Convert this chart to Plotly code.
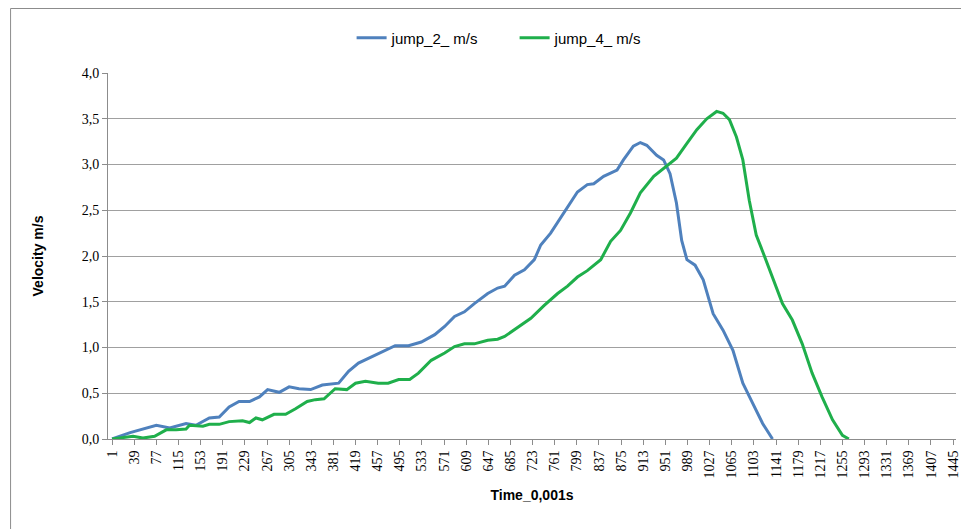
import plotly.graph_objects as go

j2_t = [1, 32, 77, 100, 128, 145, 168, 185, 202, 219, 237, 254, 268, 288, 305, 322, 342, 362, 390,
        407, 424, 441, 464, 487, 510, 532, 555, 572, 589, 606, 623, 646, 663, 675, 692, 709, 726,
        737, 754, 777, 800, 817, 828, 845, 868, 879, 896, 908, 919, 936, 948, 959, 970, 979, 988,
        1002, 1016, 1033, 1050, 1067, 1084, 1101, 1118, 1135]
j2_v = [0.0, 0.07, 0.15, 0.12, 0.17, 0.15, 0.23, 0.24, 0.35, 0.41, 0.41, 0.46, 0.54, 0.51, 0.57, 0.55,
        0.54, 0.59, 0.61, 0.74, 0.83, 0.88, 0.95, 1.02, 1.02, 1.06, 1.14, 1.23, 1.34, 1.39, 1.48, 1.59,
        1.65, 1.67, 1.79, 1.85, 1.96, 2.12, 2.25, 2.47, 2.70, 2.78, 2.79, 2.87, 2.94, 3.05, 3.20, 3.24,
        3.21, 3.10, 3.05, 2.90, 2.58, 2.17, 1.96, 1.90, 1.74, 1.37, 1.19, 0.97, 0.61, 0.39, 0.17, 0.0]

j4_t = [1, 37, 54, 74, 94, 111, 128, 134, 157, 168, 185, 202, 225, 237, 248, 259, 279, 299, 316, 336,
        350, 365, 384, 404, 419, 436, 458, 475, 493, 512, 527, 549, 572, 589, 606, 623, 646, 663, 675,
        703, 720, 743, 766, 783, 800, 817, 840, 857, 874, 891, 908, 931, 953, 970, 988, 1005, 1022,
        1039, 1050, 1061, 1073, 1084, 1095, 1107, 1118, 1135, 1152, 1169, 1186, 1203, 1220, 1238,
        1255, 1266]
j4_v = [0.0, 0.03, 0.01, 0.03, 0.10, 0.10, 0.11, 0.15, 0.14, 0.16, 0.16, 0.19, 0.20, 0.18, 0.23, 0.21,
        0.27, 0.27, 0.33, 0.41, 0.43, 0.44, 0.55, 0.54, 0.61, 0.63, 0.61, 0.61, 0.65, 0.65, 0.72, 0.86,
        0.94, 1.01, 1.04, 1.04, 1.08, 1.09, 1.12, 1.25, 1.32, 1.46, 1.59, 1.67, 1.77, 1.84, 1.96, 2.16,
        2.28, 2.47, 2.69, 2.87, 2.98, 3.07, 3.23, 3.38, 3.50, 3.58, 3.56, 3.49, 3.30, 3.05, 2.61, 2.23,
        2.05, 1.77, 1.48, 1.30, 1.04, 0.72, 0.46, 0.21, 0.04, 0.0]

x_ticks = list(range(1, 1446, 38))
x_tick_labels = [str(v) for v in x_ticks]
y_ticks = [0.0, 0.5, 1.0, 1.5, 2.0, 2.5, 3.0, 3.5, 4.0]

W, H = 961, 521
L, R, T, B = 100, 8, 65, 90
PW, PH = W - L - R, H - T - B

fig = go.Figure()
fig.add_trace(go.Scatter(x=j2_t, y=j2_v, mode="lines", name="jump_2_ m/s",
                         line=dict(color="#4F81BD", width=3)))
fig.add_trace(go.Scatter(x=j4_t, y=j4_v, mode="lines", name="jump_4_ m/s",
                         line=dict(color="#1FAF4B", width=3)))

fig.update_layout(
    width=W, height=H,
    margin=dict(l=L, r=R, t=T, b=B),
    paper_bgcolor="white", plot_bgcolor="white",
    separators=",.",
    showlegend=True,
    legend=dict(orientation="h", x=(509 - L) / PW, xanchor="center",
                y=1 + (T - 30) / PH, yanchor="middle",
                entrywidth=118, entrywidthmode="pixels",
                font=dict(family="Liberation Sans", size=15, color="#000000"),
                bgcolor="rgba(0,0,0,0)"),
    xaxis=dict(
        range=[-6, 1450], tickmode="array", tickvals=x_ticks, ticktext=x_tick_labels,
        tickangle=-90, showgrid=False, zeroline=False,
        showline=True, linecolor="#8C8C8C", linewidth=1,
        ticks="outside", ticklen=5, tickcolor="#8C8C8C",
        tickfont=dict(family="Liberation Serif", size=14, color="#000000"),
        title=dict(text="<b>Time_0,001s</b>", standoff=12,
                   font=dict(family="Liberation Sans", size=14, color="#000000")),
    ),
    yaxis=dict(
        range=[0, 4], tickmode="array", tickvals=y_ticks, tickformat=".1f",
        showgrid=True, gridcolor="#A0A0A0", gridwidth=1, zeroline=False,
        showline=True, linecolor="#8C8C8C", linewidth=1,
        ticks="outside", ticklen=5, tickcolor="#8C8C8C",
        tickfont=dict(family="Liberation Serif", size=14, color="#000000"),
        title=dict(text="<b>Velocity m/s</b>", standoff=34,
                   font=dict(family="Liberation Sans", size=14, color="#000000")),
    ),
)

# outer chart border (left and top edges visible in the reference)
bx = (2 - L) / PW
ty = (T + PH - 0.5) / PH
fig.add_shape(type="line", xref="paper", yref="paper",
              x0=bx, x1=bx, y0=ty, y1=-0.5,
              line=dict(color="#8C8C8C", width=1))
fig.add_shape(type="line", xref="paper", yref="paper",
              x0=bx, x1=1.2, y0=ty, y1=ty,
              line=dict(color="#8C8C8C", width=1))

fig.write_html("out.html")
